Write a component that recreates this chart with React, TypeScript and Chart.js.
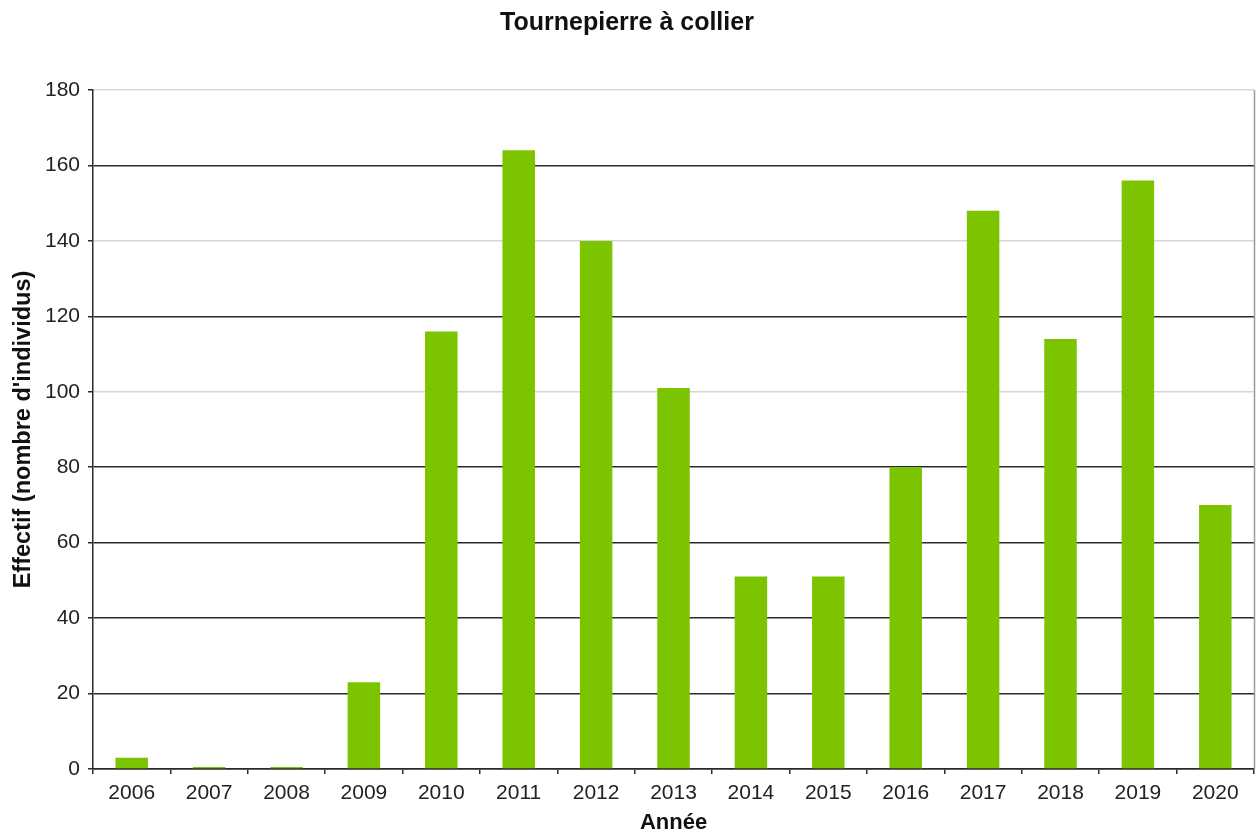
import React, { useEffect, useRef } from "react";
import { Chart, registerables } from "chart.js";

Chart.register(...registerables);

const TITLE = "Tournepierre à collier";
const X_TITLE = "Année";
const Y_TITLE = "Effectif (nombre d'individus)";

const years = [
  "2006", "2007", "2008", "2009", "2010", "2011", "2012", "2013",
  "2014", "2015", "2016", "2017", "2018", "2019", "2020",
];
const effectifs = [3, 0.5, 0.5, 23, 116, 164, 140, 101, 51, 51, 80, 148, 114, 156, 70];

const yMin = 0;
const yMax = 180;
const yStep = 20;
const lightGridValues = [100, 140, 180];

const FONT = "'Liberation Sans', Arial, Helvetica, sans-serif";
const BAR_COLOR = "#7cc400";
const DARK = "#2b2b2b";
const LIGHT = "#d6d6d6";

const rightBorder = {
  id: "rightBorder",
  afterDraw(chart: any) {
    const { ctx, chartArea } = chart;
    ctx.save();
    ctx.strokeStyle = "#9a9a9a";
    ctx.lineWidth = 1.5;
    ctx.beginPath();
    ctx.moveTo(chartArea.right + 0.5, chartArea.top);
    ctx.lineTo(chartArea.right + 0.5, chartArea.bottom);
    ctx.stroke();
    ctx.restore();
  },
};

export default function App() {
  const ref = useRef<HTMLCanvasElement | null>(null);

  useEffect(() => {
    if (!ref.current) return;
    const chart = new Chart(ref.current, {
      type: "bar",
      data: {
        labels: years,
        datasets: [
          {
            data: effectifs,
            backgroundColor: BAR_COLOR,
            borderWidth: 0,
            barPercentage: 0.42,
            categoryPercentage: 1,
          },
        ],
      },
      options: {
        animation: false,
        responsive: true,
        maintainAspectRatio: false,
        layout: { padding: { left: 0, right: 4, top: 0, bottom: 0 } },
        plugins: {
          legend: { display: false },
          tooltip: { enabled: false },
          title: {
            display: true,
            text: TITLE,
            color: "#111",
            font: { family: FONT, size: 25, weight: "bold", lineHeight: 1.2 },
            padding: { top: 8, bottom: 52 },
          },
        },
        scales: {
          x: {
            type: "category",
            grid: {
              display: true,
              drawOnChartArea: false,
              drawTicks: true,
              tickLength: 5,
              color: DARK,
              lineWidth: 1.5,
              offset: true,
            },
            border: { display: true, color: DARK, width: 1.5 },
            ticks: {
              color: "#222",
              font: { family: FONT, size: 21, lineHeight: 1.2 },
              padding: 7,
              maxRotation: 0,
              autoSkip: false,
            },
            title: {
              display: true,
              text: X_TITLE,
              color: "#111",
              font: { family: FONT, size: 22, weight: "bold", lineHeight: 1.2 },
              padding: { top: 0, bottom: 0 },
            },
            afterFit: (scale: any) => {
              scale.height = 67;
            },
          },
          y: {
            min: yMin,
            max: yMax,
            ticks: {
              stepSize: yStep,
              color: "#222",
              font: { family: FONT, size: 21, lineHeight: 1.2 },
              padding: 8,
            },
            grid: {
              color: (ctx: any) =>
                ctx.tick && lightGridValues.includes(ctx.tick.value) ? LIGHT : DARK,
              lineWidth: 1.5,
              drawTicks: true,
              tickLength: 5,
              tickColor: DARK,
            },
            border: { display: true, color: DARK, width: 1.5 },
            title: {
              display: true,
              text: Y_TITLE,
              color: "#111",
              font: { family: FONT, size: 23.5, weight: "bold", lineHeight: 1.2 },
              padding: { top: 9, bottom: 0 },
            },
            afterFit: (scale: any) => {
              scale.width = 93;
            },
          },
        },
      },
      plugins: [rightBorder],
    });
    return () => chart.destroy();
  }, []);

  return (
    <div style={{ position: "absolute", left: 0, top: 0, width: 1258, height: 836, background: "#fff" }}>
      <canvas ref={ref} />
    </div>
  );
}
